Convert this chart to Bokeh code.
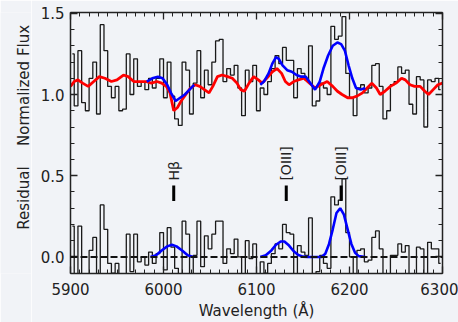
import numpy as np
from math import pi
from bokeh.plotting import figure
from bokeh.layouts import row
from bokeh.models import (Range1d, LinearAxis, SingleIntervalTicker,
                          PrintfTickFormatter, Span, CustomJSTickFormatter)
from bokeh.core.properties import value
from bokeh.embed import file_html
from bokeh.resources import INLINE

# ---------------- data ----------------
bin_start = 5902
bin_width = 4
flux = [
    1.25, 0.93, 1.27, 0.95, 0.90,
    1.10, 1.20, 0.88, 1.43, 1.27,
    1.05, 0.98, 1.05, 0.90, 0.91,
    1.25, 1.00, 1.22, 1.05, 1.08,
    1.03, 1.10, 1.04, 1.10, 1.22,
    0.98, 1.20, 0.99, 0.85, 0.81,
    1.20, 1.15, 0.88, 1.07, 1.27,
    0.98, 1.15, 1.06, 1.20, 1.33,
    1.34, 1.08, 1.16, 1.12, 1.18,
    1.04, 0.87, 1.15, 1.08, 1.18,
    0.90, 1.04, 1.00, 1.08, 1.16,
    1.24, 1.19, 1.29, 1.21, 1.21,
    0.98, 1.16, 1.13, 1.09, 1.30,
    0.93, 0.96, 1.07, 1.04, 1.00,
    1.42, 1.34, 1.36, 1.48, 1.13,
    0.98, 0.87, 1.04, 1.06, 1.01,
    1.04, 1.18, 1.19, 1.05, 0.85,
    0.90, 1.06, 1.08, 1.17, 1.13,
    1.15, 0.94, 0.88, 1.11, 1.09,
    0.80, 1.09, 1.08, 1.10, 1.03,
]
residual = [
    0.19, -0.16, 0.19, -0.12, -0.15,
    0.04, 0.12, -0.22, 0.32, 0.17,
    -0.04, -0.10, -0.04, -0.20, -0.21,
    0.14, -0.09, 0.14, -0.03, 0.00,
    -0.05, 0.03, -0.04, 0.02, 0.15,
    -0.08, 0.18, 0.06, -0.07, -0.14,
    0.22, 0.14, -0.17, 0.01, 0.22,
    -0.06, 0.13, 0.05, 0.14, 0.22,
    0.22, -0.04, 0.05, 0.02, 0.11,
    0.00, -0.15, 0.10, -0.01, 0.08,
    -0.19, -0.03, -0.10, -0.04, 0.02,
    0.08, 0.05, 0.20, 0.15, 0.14,
    -0.11, 0.07, 0.03, 0.01, 0.24,
    -0.12, -0.09, 0.01, -0.04, -0.07,
    0.37, 0.32, 0.35, 0.48, 0.15,
    0.00, -0.12, 0.04, 0.05, -0.03,
    -0.02, 0.12, 0.16, 0.05, -0.17,
    -0.14, 0.01, 0.01, 0.08, 0.03,
    0.07, -0.12, -0.17, 0.06, 0.05,
    -0.22, 0.09, 0.05, 0.05, -0.04,
]
wave = bin_start + bin_width * np.arange(len(flux))

template_wave = [5900, 5904, 5908, 5913, 5919, 5925, 5931, 5937, 5944, 5950,
                 5957, 5962, 5968, 5975, 5981, 5987, 5993, 5998, 6003, 6007,
                 6011, 6015, 6019, 6024, 6029, 6034, 6039, 6044, 6049, 6053,
                 6058, 6063, 6069, 6074, 6079, 6083, 6087, 6092, 6097, 6102,
                 6106, 6111, 6117, 6122, 6127, 6131, 6135, 6140, 6145, 6151,
                 6157, 6163, 6169, 6176, 6182, 6187, 6192, 6198, 6203, 6208,
                 6214, 6219, 6224, 6229, 6233, 6238, 6244, 6250, 6256, 6260,
                 6265, 6270, 6276, 6281, 6285, 6290, 6295, 6300]
template_flux = [1.05, 1.08, 1.09, 1.07, 1.05, 1.08, 1.11, 1.10, 1.08, 1.09,
                 1.12, 1.11, 1.08, 1.08, 1.08, 1.07, 1.08, 1.07, 1.05, 1.01,
                 0.90, 0.92, 0.96, 1.00, 1.04, 1.06, 1.05, 1.03, 1.01, 1.05,
                 1.11, 1.12, 1.11, 1.10, 1.07, 1.03, 1.02, 1.07, 1.11, 1.09,
                 1.07, 1.10, 1.14, 1.16, 1.13, 1.08, 1.06, 1.08, 1.09, 1.10,
                 1.07, 1.04, 1.06, 1.08, 1.05, 1.02, 1.00, 0.98, 0.98, 0.99,
                 1.01, 1.04, 1.07, 1.04, 1.00, 1.02, 1.05, 1.07, 1.10, 1.09,
                 1.06, 1.05, 1.05, 1.02, 1.00, 1.03, 1.06, 1.07]

hb_model_wave = [5982, 5988, 5994, 5999, 6004, 6008, 6013, 6018, 6023, 6028, 6033]
hb_model_flux = [1.08, 1.10, 1.11, 1.10, 1.06, 1.01, 0.96, 0.98, 1.00, 1.03, 1.06]
o3_model_wave = [6104, 6108, 6113, 6117, 6121, 6124, 6128, 6133, 6138, 6143,
                 6148, 6153, 6158, 6163, 6168, 6172, 6177, 6182, 6187, 6191,
                 6195, 6199, 6203, 6207, 6212, 6217]
o3_model_flux = [1.06, 1.08, 1.13, 1.19, 1.23, 1.22, 1.18, 1.15, 1.14, 1.12,
                 1.11, 1.11, 1.07, 1.03, 1.08, 1.16, 1.24, 1.30, 1.32, 1.31,
                 1.27, 1.18, 1.10, 1.04, 1.03, 1.04]

hb_fit_wave = [5986, 5992, 5998, 6004, 6009, 6014, 6020, 6026, 6032]
hb_fit = [0.0, 0.01, 0.04, 0.065, 0.075, 0.065, 0.04, 0.01, 0.0]
o3_fit_wave = [6104, 6110, 6116, 6121, 6126, 6130, 6135, 6140, 6145, 6150,
               6155, 6160, 6165, 6170, 6174, 6178, 6182, 6186, 6190, 6194,
               6198, 6202, 6206, 6210, 6217]
o3_fit = [0.0, 0.01, 0.04, 0.075, 0.095, 0.095, 0.07, 0.035, 0.012, 0.002,
          0.0, 0.0, 0.0, 0.0, 0.02, 0.08, 0.17, 0.27, 0.30, 0.26,
          0.17, 0.08, 0.025, 0.005, 0.0]

line_names = ["H\u03b2", "[OIII]", "[OIII]"]
line_waves = [6011, 6132, 6191]

y_titles = ["Normalized Flux", "Residual"]

# ---------------- styling ----------------
FONT = "DejaVu Sans"
BG = "#f1f3f7"
INK = "#222222"
STRIP_W = 31

# narrow strip holding the two y-axis titles
strip = figure(width=STRIP_W, height=322, output_backend="svg",
               toolbar_location=None, x_range=Range1d(0, STRIP_W),
               y_range=Range1d(0, 322), min_border=0,
               background_fill_color=BG, border_fill_color=BG,
               outline_line_color=None)
strip.axis.visible = False
strip.grid.visible = False
strip.text(x=[23, 23], y=[322 - 90, 322 - 229], text=y_titles, angle=pi / 2,
           text_align="center", text_baseline="middle", text_font=value(FONT),
           text_font_size="15px", text_color=INK)

p = figure(width=458 - STRIP_W, height=322, output_backend="svg",
           toolbar_location=None,
           x_range=Range1d(5900, 6300), y_range=Range1d(-0.102, 1.505),
           min_border_left=70 - STRIP_W, min_border_right=16, min_border_top=12,
           min_border_bottom=46, background_fill_color=BG,
           border_fill_color=BG, outline_line_color=None)
p.grid.visible = False

def style_axis(ax, labels=True):
    ax.axis_line_color = INK
    ax.axis_line_width = 1.5
    ax.major_tick_line_color = INK
    ax.minor_tick_line_color = INK
    ax.major_tick_line_width = 1.3
    ax.minor_tick_line_width = 1.0
    ax.major_tick_in = 7
    ax.major_tick_out = 0
    ax.minor_tick_in = 4
    ax.minor_tick_out = 0
    if labels:
        ax.major_label_text_font = FONT
        ax.major_label_text_font_size = "15px"
        ax.major_label_text_color = INK
    else:
        ax.formatter = CustomJSTickFormatter(code="return ''")
        ax.major_label_standoff = 0

p.xaxis.ticker = SingleIntervalTicker(interval=100, num_minor_ticks=10)
p.yaxis.ticker = SingleIntervalTicker(interval=0.5, num_minor_ticks=5)
p.yaxis.formatter = PrintfTickFormatter(format="%.1f")
style_axis(p.xaxis[0])
style_axis(p.yaxis[0])
p.xaxis.major_label_standoff = 9
p.yaxis.major_label_standoff = 6
p.xaxis.axis_label = "Wavelength (\u00c5)"
p.xaxis.axis_label_text_font = FONT
p.xaxis.axis_label_text_font_size = "15px"
p.xaxis.axis_label_text_font_style = "normal"
p.xaxis.axis_label_text_color = INK
p.xaxis.axis_label_standoff = 4

top = LinearAxis(ticker=SingleIntervalTicker(interval=100, num_minor_ticks=10))
style_axis(top, labels=False)
p.add_layout(top, "above")
right = LinearAxis(ticker=SingleIntervalTicker(interval=0.5, num_minor_ticks=5))
style_axis(right, labels=False)
p.add_layout(right, "right")

# spectrum and residual
p.step(wave, flux, mode="center", line_color="#1a1a1a", line_width=1.3)
p.step(wave, residual, mode="center", line_color="#1a1a1a", line_width=1.3)

# template and fits
p.line(template_wave, template_flux, line_color="#ff0000", line_width=2.8)
p.line(hb_model_wave, hb_model_flux, line_color="#0000ff", line_width=2.6)
p.line(o3_model_wave, o3_model_flux, line_color="#0000ff", line_width=2.6)
p.line(hb_fit_wave, hb_fit, line_color="#0000ff", line_width=2.6)
p.line(o3_fit_wave, o3_fit, line_color="#0000ff", line_width=2.6)

p.add_layout(Span(location=0, dimension="width", line_color="#111111",
                  line_width=2, line_dash="7 3"))

# emission line markers
p.segment(x0=line_waves, y0=[0.345] * len(line_waves), x1=line_waves,
          y1=[0.44] * len(line_waves), line_color="#000000", line_width=3)
p.text(x=line_waves, y=[0.47] * len(line_waves), text=line_names, angle=pi / 2,
       text_align="left", text_baseline="middle", text_font=value(FONT),
       text_font_size="14px", text_color=INK)

layout = row(strip, p, spacing=0)

open("out.html", "w").write(file_html(layout, INLINE))
